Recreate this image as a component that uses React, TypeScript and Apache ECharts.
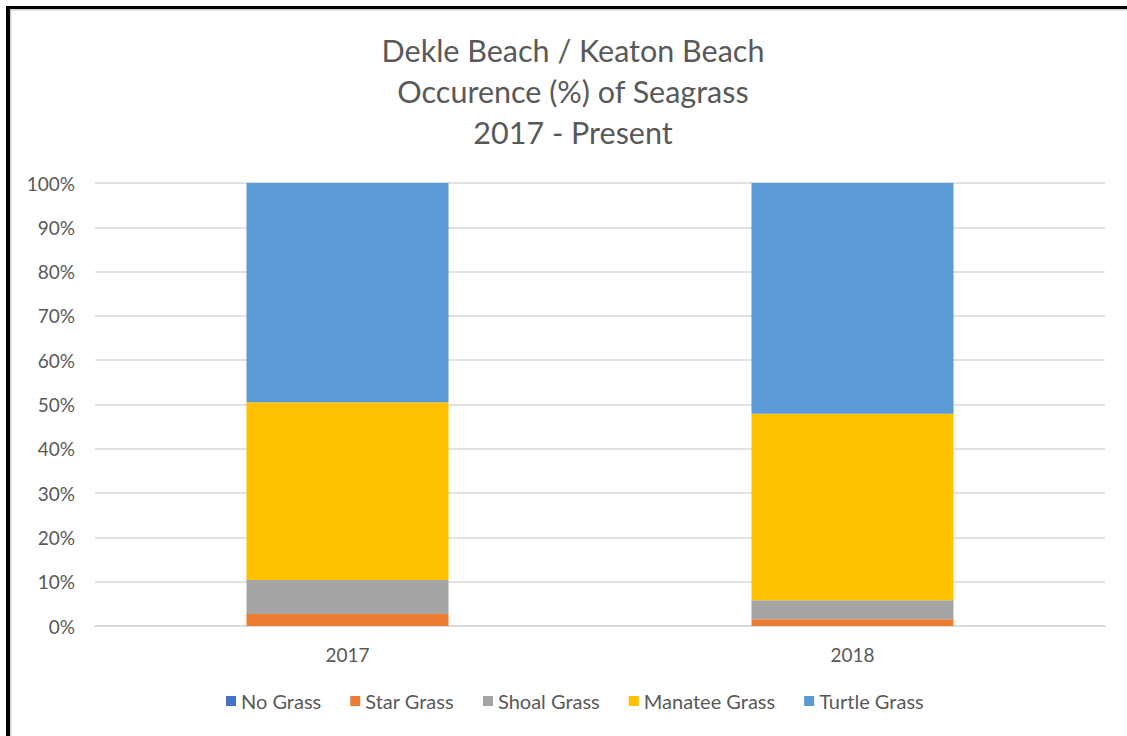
import React, { useEffect, useRef } from "react";
import * as echarts from "echarts";

const titleLines = ["Dekle Beach / Keaton Beach", "Occurence (%) of Seagrass", "2017 - Present"];
const years = ["2017", "2018"];
const seriesNames = ["No Grass", "Star Grass", "Shoal Grass", "Manatee Grass", "Turtle Grass"];
const noGrass = [0, 0];
const starGrass = [2.7, 1.5];
const shoalGrass = [7.7, 4.3];
const manateeGrass = [40.1, 42.1];
const turtleGrass = [49.5, 52.1];
const colors = ["#4472C4", "#ED7D31", "#A5A5A5", "#FFC000", "#5B9BD5"];
const yTicks = [0, 10, 20, 30, 40, 50, 60, 70, 80, 90, 100];

const FONT = "Lato, 'Open Sans', sans-serif";
const TEXT = "#595959";

export default function App() {
  const ref = useRef<HTMLDivElement>(null);
  useEffect(() => {
    if (!ref.current) return;
    const chart = echarts.init(ref.current, null, { renderer: "svg" });
    const values = [noGrass, starGrass, shoalGrass, manateeGrass, turtleGrass];
    chart.setOption({
      animation: false,
      backgroundColor: "#ffffff",
      title: {
        text: titleLines.join("\n"),
        left: 568,
        textAlign: "center",
        top: 24,
        textStyle: {
          fontFamily: FONT,
          fontSize: 30.5,
          fontWeight: "normal",
          color: TEXT,
          lineHeight: 41,
        },
      },
      graphic: [
        { type: "rect", shape: { x: 6, y: 6, width: 4, height: 740 }, style: { fill: "#000" } },
        { type: "rect", shape: { x: 6, y: 6, width: 1130, height: 3 }, style: { fill: "#000" } },
        { type: "rect", shape: { x: 10, y: 9, width: 1.5, height: 740 }, style: { fill: "#D0D0D0" } },
        { type: "rect", shape: { x: 10, y: 9, width: 1130, height: 1.5 }, style: { fill: "#D0D0D0" } },
      ],
      legend: {
        data: seriesNames,
        left: 221,
        top: 686,
        icon: "rect",
        itemWidth: 10,
        itemHeight: 10,
        itemGap: 29,
        textStyle: { fontFamily: FONT, fontSize: 20, color: TEXT },
      },
      grid: { left: 95, right: 22, top: 183, bottom: 110, containLabel: false },
      xAxis: {
        type: "category",
        data: years,
        axisLine: { lineStyle: { color: "#D9D9D9", width: 1.5 } },
        axisTick: { show: false },
        axisLabel: { fontFamily: FONT, fontSize: 19, color: TEXT, margin: 19 },
      },
      yAxis: {
        type: "value",
        min: yTicks[0],
        max: yTicks[yTicks.length - 1],
        interval: 10,
        axisLine: { show: false },
        axisTick: { show: false },
        splitLine: { lineStyle: { color: "#D9D9D9", width: 1.5 } },
        axisLabel: {
          fontFamily: FONT,
          fontSize: 19,
          color: TEXT,
          margin: 20,
          formatter: (v: number) => `${v}%`,
        },
      },
      series: seriesNames.map((name, i) => ({
        name,
        type: "bar",
        stack: "total",
        barWidth: "40%",
        data: values[i],
        itemStyle: { color: colors[i] },
      })),
    });
    return () => chart.dispose();
  }, []);
  return (
    <div
      ref={ref}
      style={{ position: "fixed", left: 0, top: 0, width: 1127, height: 736, background: "#fff" }}
    />
  );
}
